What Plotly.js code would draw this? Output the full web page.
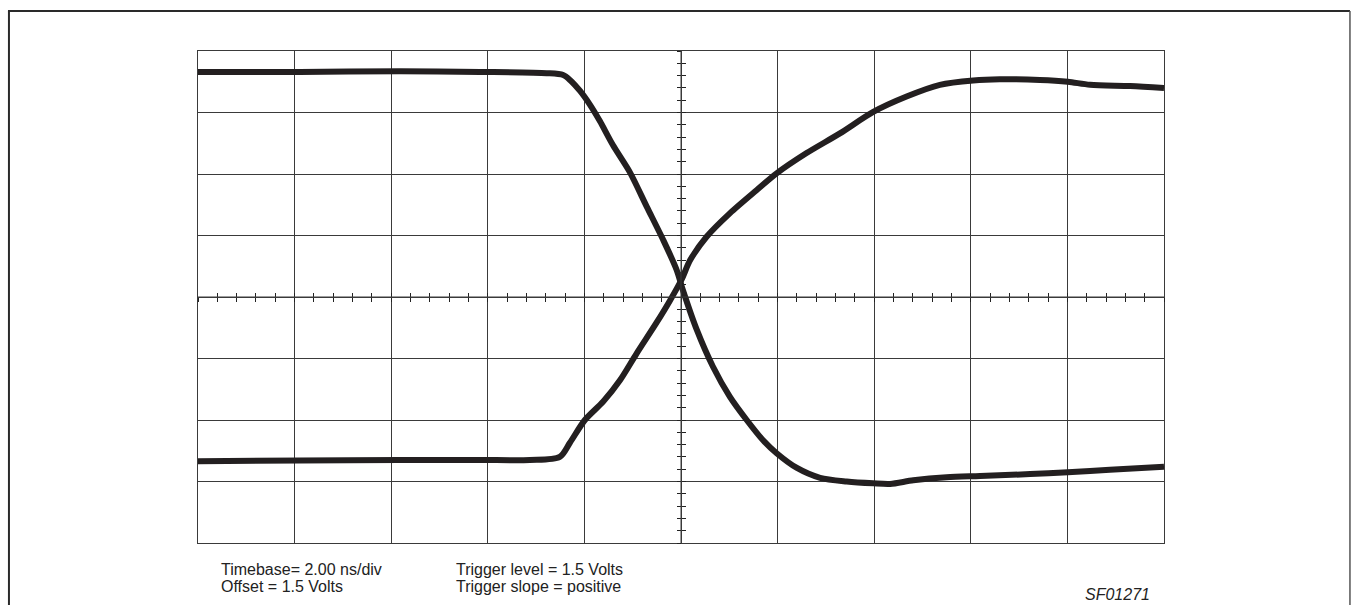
<!DOCTYPE html>
<html>
<head>
<meta charset="utf-8">
<script src="https://cdn.plot.ly/plotly-3.0.1.min.js"></script>
<style>
html,body{margin:0;padding:0;background:#fff;}
#chart{width:1352px;height:605px;}
</style>
</head>
<body>
<div id="chart"></div>
<script>
// time in ns (2.00 ns/div), amplitude in screen divisions
const fallT = [-10, -7.89, -5.82, -4.16, -2.78, -2.44, -2.30, -2.09, -1.88, -1.68, -1.41, -1.06, -0.71, -0.37, -0.09, 0.04, 0.33, 0.66, 1.01, 1.36, 1.70, 1.98, 2.40, 2.88, 3.43, 3.98, 4.33, 4.81, 5.50, 6.19, 7.23, 8.01, 8.88, 10];
const fallV = [3.66, 3.66, 3.67, 3.66, 3.64, 3.61, 3.53, 3.35, 3.12, 2.86, 2.47, 2.03, 1.47, 0.93, 0.44, 0.11, -0.54, -1.13, -1.62, -2.00, -2.33, -2.54, -2.78, -2.94, -3.00, -3.03, -3.04, -2.98, -2.93, -2.91, -2.88, -2.85, -2.81, -2.76];
const riseT = [-10, -7.89, -5.82, -4.16, -3.13, -2.51, -2.30, -1.99, -1.61, -1.26, -0.92, -0.50, -0.23, 0.01, 0.19, 0.53, 1.01, 1.57, 1.98, 2.60, 3.29, 3.98, 4.67, 5.36, 6.05, 6.60, 7.43, 8.01, 8.47, 9.30, 10];
const riseV = [-2.67, -2.66, -2.65, -2.65, -2.65, -2.60, -2.37, -2.00, -1.70, -1.35, -0.92, -0.41, -0.06, 0.28, 0.60, 0.98, 1.36, 1.74, 2.01, 2.34, 2.66, 3.01, 3.26, 3.45, 3.52, 3.54, 3.53, 3.50, 3.45, 3.43, 3.40];

const noteLeft = ["Timebase= 2.00 ns/div", "Offset = 1.5 Volts"];
const noteMid = ["Trigger level = 1.5 Volts", "Trigger slope = positive"];
const figId = "SF01271";

const traceColor = "#231f20";
const gridColor = "#3a3a3a";

const traces = [
  {x: fallT, y: fallV, type: "scatter", mode: "lines", line: {color: traceColor, width: 6, shape: "spline", smoothing: 0.8}, hoverinfo: "skip"},
  {x: riseT, y: riseV, type: "scatter", mode: "lines", line: {color: traceColor, width: 6, shape: "spline", smoothing: 0.8}, hoverinfo: "skip"}
];

const baseX = {range: [-10, 10], dtick: 2, tick0: -10, showgrid: true, gridcolor: gridColor, gridwidth: 1, zeroline: false, showticklabels: false, ticks: "", showline: true, linecolor: gridColor, linewidth: 1, mirror: true, fixedrange: true};
const baseY = {range: [-4, 4], dtick: 1, tick0: -4, showgrid: true, gridcolor: gridColor, gridwidth: 1, zeroline: false, showticklabels: false, ticks: "", showline: true, linecolor: gridColor, linewidth: 1, mirror: true, fixedrange: true};

function tickAxis(extra) {
  return Object.assign({showgrid: false, zeroline: false, showticklabels: false, showline: false, ticklen: 4, tickwidth: 1, tickcolor: "#222", fixedrange: true}, extra);
}

function noteLines(lines, x) {
  return lines.map((t, i) => ({text: t, xref: "paper", yref: "paper", x: x, y: 0, yshift: -26 - 17 * i, xanchor: "left", yanchor: "middle", align: "left", showarrow: false, font: {size: 16, color: "#222"}}));
}

const layout = {
  width: 1352, height: 605,
  margin: {l: 198, r: 188, t: 51, b: 62},
  paper_bgcolor: "#fff", plot_bgcolor: "#fff",
  showlegend: false,
  font: {family: "Liberation Sans, Arial, sans-serif", color: "#222"},
  xaxis: baseX,
  yaxis: baseY,
  xaxis2: tickAxis({overlaying: "x", anchor: "free", position: 0.5, side: "bottom", range: [-10, 10], dtick: 0.4, tick0: -10, ticks: "inside"}),
  xaxis3: tickAxis({overlaying: "x", anchor: "free", position: 0.5, side: "bottom", range: [-10, 10], dtick: 0.4, tick0: -10, ticks: "outside"}),
  yaxis2: tickAxis({overlaying: "y", anchor: "free", position: 0.5, side: "left", range: [-4, 4], dtick: 0.2, tick0: -4, ticks: "inside"}),
  yaxis3: tickAxis({overlaying: "y", anchor: "free", position: 0.5, side: "left", range: [-4, 4], dtick: 0.2, tick0: -4, ticks: "outside"}),
  shapes: [
    {type: "line", xref: "paper", yref: "paper", x0: -0.1957, x1: -0.1957, y0: 1.0813, y1: -0.14, line: {color: "#2a2a2a", width: 2}},
    {type: "line", xref: "paper", yref: "paper", x0: -0.1967, x1: 1.1925, y0: 1.0813, y1: 1.0813, line: {color: "#2a2a2a", width: 2}},
    {type: "line", xref: "paper", yref: "paper", x0: 1.1925, x1: 1.1925, y0: 1.0813, y1: -0.14, line: {color: "#555", width: 1.5}},
    {type: "line", xref: "x", yref: "paper", x0: 0, x1: 0, y0: 0, y1: 1, line: {color: gridColor, width: 1}},
    {type: "line", xref: "paper", yref: "y", x0: 0, x1: 1, y0: 0, y1: 0, line: {color: gridColor, width: 1}}
  ],
  annotations: noteLines(noteLeft, 0.0218).concat(noteLines(noteMid, 0.2655)).concat([
    {text: "<i>" + figId + "</i>", xref: "paper", yref: "paper", x: 0.9875, y: 0, yshift: -51, xanchor: "right", yanchor: "middle", showarrow: false, font: {size: 16, color: "#222"}}
  ])
};

// invisible helper traces so that the centre-line tick axes render
traces.push({x: [null], y: [null], xaxis: "x2", yaxis: "y", type: "scatter", mode: "lines", hoverinfo: "skip"});
traces.push({x: [null], y: [null], xaxis: "x3", yaxis: "y", type: "scatter", mode: "lines", hoverinfo: "skip"});
traces.push({x: [null], y: [null], xaxis: "x", yaxis: "y2", type: "scatter", mode: "lines", hoverinfo: "skip"});
traces.push({x: [null], y: [null], xaxis: "x", yaxis: "y3", type: "scatter", mode: "lines", hoverinfo: "skip"});

Plotly.newPlot("chart", traces, layout, {staticPlot: true, displayModeBar: false});
</script>
</body>
</html>
